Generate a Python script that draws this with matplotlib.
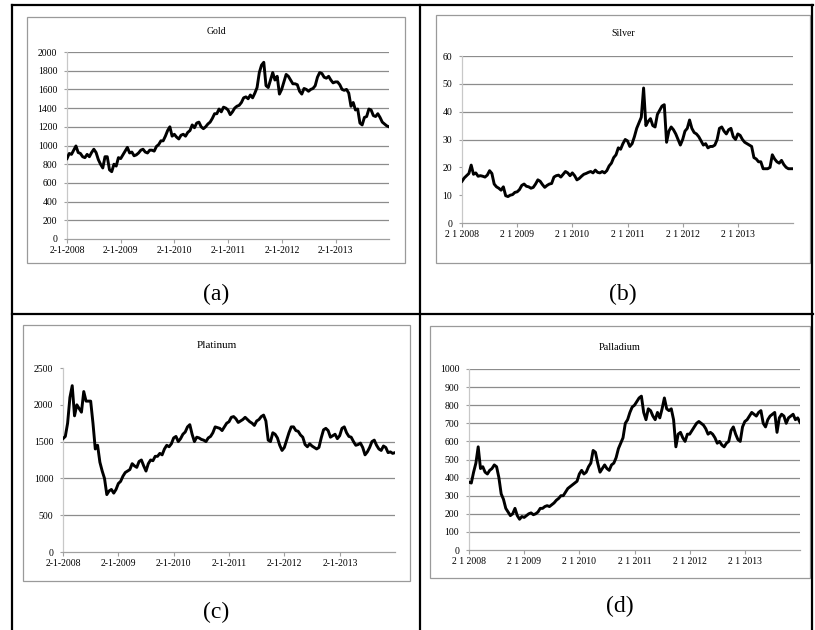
import matplotlib
matplotlib.use("Agg")
import matplotlib.pyplot as plt
import pandas as pd
from matplotlib.patches import Rectangle
from matplotlib.lines import Line2D

plt.rcParams['font.family'] = ['Liberation Serif', 'DejaVu Serif']

W, H = 815, 630

# ---------------- data ----------------
DATES = pd.date_range("2008-01-02", "2013-12-31", periods=145)
TICK_DATES = pd.to_datetime(["2008-01-02", "2009-01-02", "2010-01-02",
                             "2011-01-02", "2012-01-02", "2013-01-02"])
LABELS_DASH = ["2-1-2008", "2-1-2009", "2-1-2010", "2-1-2011", "2-1-2012", "2-1-2013"]
LABELS_SPACE = ["2 1 2008", "2 1 2009", "2 1 2010", "2 1 2011", "2 1 2012", "2 1 2013"]

gold = [
    860, 915, 905, 950, 995, 925, 915, 880, 870, 905, 880, 925, 960, 925, 850, 800, 760, 880, 880, 740, 720, 800, 780, 870,
    860, 900, 940, 980, 920, 930, 890, 900, 920, 950, 960, 930, 920, 950, 950, 940, 990, 1010, 1050, 1050, 1100, 1160, 1200, 1100,
    1120, 1090, 1070, 1110, 1120, 1100, 1140, 1160, 1220, 1190, 1240, 1250, 1200, 1180, 1200, 1230, 1250, 1290, 1340, 1340, 1390, 1360, 1410, 1400,
    1380, 1330, 1360, 1400, 1420, 1430, 1460, 1510, 1520, 1500, 1540, 1510, 1560, 1620, 1780, 1860, 1890, 1640, 1620, 1700, 1780, 1700, 1740, 1550,
    1600, 1680, 1760, 1740, 1700, 1660, 1660, 1650, 1580, 1550, 1610, 1600, 1580, 1600, 1610, 1640, 1730, 1780, 1770, 1730, 1720, 1740, 1700, 1670,
    1680, 1680, 1650, 1600, 1590, 1600, 1560, 1420, 1460, 1380, 1390, 1240, 1220, 1300, 1310, 1390, 1380, 1320, 1310, 1340, 1300, 1250, 1230, 1210, 1200,
]

silver = [
    15.0, 16.2, 17.0, 17.8, 20.8, 17.5, 18.0, 16.8, 17.0, 16.8, 16.5, 17.2, 18.8, 17.8, 14.0, 13.0, 12.5, 11.8, 13.0, 9.8, 9.5, 10.0, 10.2, 11.0,
    11.2, 12.0, 13.5, 14.0, 13.2, 13.0, 12.5, 12.8, 14.0, 15.5, 15.0, 13.8, 12.8, 13.5, 14.0, 14.2, 16.5, 17.0, 17.2, 16.5, 17.5, 18.5, 18.0, 17.0,
    18.0, 17.0, 15.5, 16.0, 16.8, 17.5, 17.8, 18.2, 18.5, 18.0, 19.0, 18.2, 18.0, 18.5, 18.0, 18.8, 20.5, 21.5, 23.5, 24.5, 27.0, 26.5, 28.5, 30.0,
    29.5, 27.5, 28.5, 31.0, 34.0, 36.0, 38.0, 48.5, 35.0, 36.5, 37.5, 35.0, 34.5, 39.0, 40.5, 42.0, 42.5, 29.0, 33.0, 34.5, 33.5, 32.0, 30.0, 28.0,
    30.0, 33.0, 34.0, 37.0, 34.0, 32.5, 32.0, 31.0, 29.5, 28.0, 28.5, 27.0, 27.5, 27.5, 28.0, 30.0, 34.0, 34.5, 33.0, 32.0, 33.5, 34.0, 31.0, 30.0,
    32.0, 31.5, 30.0, 29.0, 28.5, 28.0, 27.5, 23.5, 23.0, 22.0, 22.0, 19.5, 19.5, 19.5, 20.0, 24.5, 23.0, 22.0, 21.5, 22.5, 21.0, 20.0, 19.5, 19.5, 19.5,
]

platinum = [
    1540, 1570, 1750, 2100, 2260, 1850, 2000, 1950, 1900, 2180, 2050, 2050, 2050, 1750, 1400, 1450, 1220, 1100, 1000, 780, 830, 850, 800, 850,
    930, 960, 1030, 1080, 1100, 1120, 1200, 1170, 1150, 1230, 1250, 1170, 1100, 1200, 1250, 1240, 1300, 1300, 1340, 1320, 1400, 1450, 1430, 1470,
    1550, 1570, 1500, 1540, 1600, 1630, 1700, 1730, 1600, 1500, 1560, 1550, 1530, 1520, 1500, 1550, 1570, 1620, 1700, 1690, 1680, 1650, 1700, 1750,
    1770, 1830, 1840, 1810, 1760, 1780, 1800, 1830, 1800, 1770, 1750, 1720, 1780, 1800, 1840, 1860, 1780, 1520, 1500, 1620, 1600, 1550, 1450, 1380,
    1420, 1520, 1620, 1700, 1700, 1650, 1640, 1590, 1560, 1460, 1430, 1470, 1440, 1420, 1400, 1420, 1550, 1660, 1680, 1650, 1560, 1580, 1600, 1540,
    1580, 1680, 1700, 1620, 1570, 1560, 1500, 1450, 1460, 1480, 1420, 1320, 1360, 1420, 1500, 1520, 1450, 1400, 1380, 1440, 1420, 1350, 1360, 1340, 1350,
]

palladium = [
    375, 370, 430, 480, 570, 450, 460, 430, 420, 440, 450, 470, 460, 400, 310, 280, 230, 210, 190, 200, 230, 190, 170, 185,
    180, 190, 200, 205, 195, 200, 210, 230, 230, 240, 245, 240, 250, 260, 275, 285, 300, 300, 320, 340, 350, 360, 370, 380,
    420, 440, 420, 430, 460, 480, 550, 540, 480, 430, 450, 470, 450, 440, 470, 480, 510, 560, 590, 620, 700, 720, 760, 790,
    800, 820, 840, 850, 760, 720, 780, 770, 740, 720, 760, 730, 780, 840, 780, 770, 780, 720, 570, 640, 650, 620, 600, 640,
    640, 660, 680, 700, 710, 700, 690, 670, 640, 650, 640, 620, 590, 600, 580, 570, 590, 600, 660, 680, 640, 610, 600, 680,
    710, 720, 740, 760, 750, 740, 760, 770, 700, 680, 720, 740, 750, 760, 650, 730, 750, 740, 700, 730, 740, 750, 720, 730, 705,
]

gold_yticks = [0, 200, 400, 600, 800, 1000, 1200, 1400, 1600, 1800, 2000]
gold_grid = [200, 400, 600, 800, 1000, 1200, 1400, 1600, 1800, 2000]
silver_yticks = [0, 10, 20, 30, 40, 50, 60]
silver_grid = [30, 40, 50, 60]
platinum_yticks = [0, 500, 1000, 1500, 2000, 2500]
platinum_grid = [500, 1000, 1500]
palladium_yticks = [0, 100, 200, 300, 400, 500, 600, 700, 800, 900, 1000]
palladium_grid = [100, 200, 300, 400, 500, 600, 700, 800, 900, 1000]

# ---------------- layout helpers ----------------
def fbox(x0, y0, x1, y1):
    return [x0 / W, 1 - y1 / H, (x1 - x0) / W, (y1 - y0) / H]

fig = plt.figure(figsize=(W / 100, H / 100), dpi=100)

panels = [
    dict(title="Gold", data=gold, yticks=gold_yticks, grid=gold_grid, xlabels=LABELS_DASH,
         plot=(67, 52, 389, 239), box=(27, 17, 405, 263), title_y=32, title_fs=7,
         label="(a)", label_y=294),
    dict(title="Silver", data=silver, yticks=silver_yticks, grid=silver_grid, xlabels=LABELS_SPACE,
         plot=(462, 56, 793, 223), box=(436, 15, 810, 263), title_y=33, title_fs=7,
         label="(b)", label_y=294),
    dict(title="Platinum", data=platinum, yticks=platinum_yticks, grid=platinum_grid, xlabels=LABELS_DASH,
         plot=(63, 368, 395, 552), box=(23, 325, 410, 581), title_y=345, title_fs=8,
         label="(c)", label_y=612),
    dict(title="Palladium", data=palladium, yticks=palladium_yticks, grid=palladium_grid, xlabels=LABELS_SPACE,
         plot=(469, 369, 800, 550), box=(430, 326, 810, 578), title_y=347, title_fs=7.5,
         label="(d)", label_y=606),
]

GRID_C = "#8c8c8c"
AXIS_C = "#a0a0a0"

for p in panels:
    bx0, by0, bx1, by1 = p["box"]
    fig.patches.append(Rectangle((bx0 / W, 1 - by1 / H), (bx1 - bx0) / W, (by1 - by0) / H,
                                 transform=fig.transFigure, fill=False,
                                 edgecolor="#9a9a9a", linewidth=0.9))
    ax = fig.add_axes(fbox(*p["plot"]))
    ax.set_facecolor("none")
    ax.hlines(p["grid"], DATES[0], DATES[-1], colors=GRID_C, linewidth=0.9, zorder=1)
    ax.plot(DATES, p["data"], color="black", linewidth=2.1, zorder=3)
    ax.set_xlim(DATES[0], DATES[-1])
    ax.set_ylim(p["yticks"][0], p["yticks"][-1])
    ax.set_yticks(p["yticks"])
    ax.set_yticklabels([str(v) for v in p["yticks"]])
    ax.set_xticks(TICK_DATES)
    ax.set_xticklabels(p["xlabels"])
    for s in ("top", "right"):
        ax.spines[s].set_visible(False)
    ax.spines["left"].set_color("#c8c8c8")
    ax.spines["bottom"].set_color(AXIS_C)
    ax.spines["left"].set_linewidth(0.9)
    ax.spines["bottom"].set_linewidth(0.9)
    ax.tick_params(axis="x", length=3, width=0.8, color=AXIS_C, pad=2, labelsize=7)
    ax.tick_params(axis="y", length=2, width=0.8, color=AXIS_C, pad=5, labelsize=7)
    cx = (bx0 + bx1) / 2
    fig.text(cx / W, 1 - p["title_y"] / H, p["title"], ha="center", va="center",
             fontsize=p["title_fs"])
    fig.text(cx / W, 1 - p["label_y"] / H, p["label"], ha="center", va="center",
             fontsize=17)

# table lines
def fline(x0, y0, x1, y1):
    fig.lines.append(Line2D([x0 / W, x1 / W], [1 - y0 / H, 1 - y1 / H],
                            transform=fig.transFigure, color="black", linewidth=1.6))

fline(12, 5, 813, 5)
fline(12, 314, 813, 314)
fline(12, 5, 12, 630)
fline(420, 5, 420, 630)
fline(812, 5, 812, 630)

fig.savefig("out.png", dpi=100)
